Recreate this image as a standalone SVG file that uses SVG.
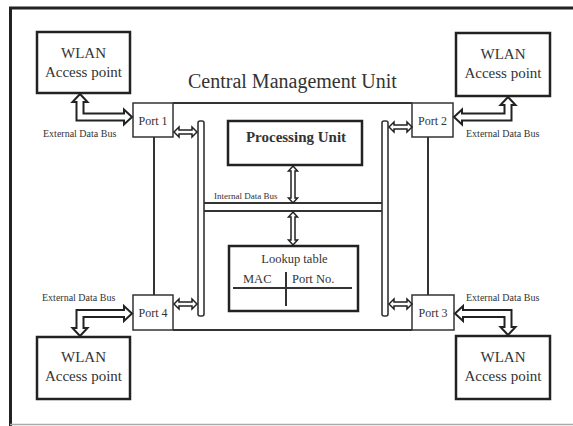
<svg xmlns="http://www.w3.org/2000/svg" width="573" height="426" viewBox="0 0 573 426" font-family="'Liberation Serif', 'Times New Roman', serif">
<style>
  text { font-family: "Liberation Serif", "Times New Roman", serif; fill: #333; }
  .box { fill: #fff; stroke: #222; stroke-width: 2.5; }
  .port { fill: #fff; stroke: #333; stroke-width: 1.5; }
  .ln { stroke: #333; stroke-width: 2; fill: none; }
  .bus { fill: #fff; stroke: #333; stroke-width: 1.6; }
  .arr { fill: #fff; stroke: #222; stroke-width: 2; stroke-linejoin: miter; }
  .sarr { fill: #fff; stroke: #222; stroke-width: 1.5; }
  .wl { font-size: 15px; text-anchor: middle; }
  .pt { font-size: 12px; text-anchor: middle; }
  .ext { font-size: 10px; }
</style>
<rect width="573" height="426" fill="#fff"/>
<g id="frame">
  <line x1="9" y1="8" x2="573" y2="8" stroke="#222" stroke-width="3"/>
  <line x1="10.5" y1="7" x2="10.5" y2="426" stroke="#222" stroke-width="3"/>
  <line x1="10" y1="424.5" x2="573" y2="424.5" stroke="#aaa" stroke-width="1.5"/>
</g>
<g id="cmu">
  <text x="188" y="88" style="font-size:20px" fill="#333">Central Management Unit</text>
  <line class="ln" x1="173" y1="103" x2="412" y2="103"/>
  <line class="ln" x1="173" y1="330" x2="412" y2="330"/>
  <line class="ln" x1="154" y1="137" x2="154" y2="295"/>
  <line class="ln" x1="428" y1="137" x2="428" y2="295"/>
</g>
<g id="wlan1">
  <rect class="box" x="37" y="32" width="93" height="61"/>
  <text class="wl" x="83.5" y="58">WLAN</text>
  <text class="wl" x="83.5" y="77">Access point</text>
</g>
<g id="wlan2">
  <rect class="box" x="456" y="33" width="94" height="63"/>
  <text class="wl" x="503" y="59">WLAN</text>
  <text class="wl" x="503" y="78">Access point</text>
</g>
<g id="wlan4">
  <rect class="box" x="37" y="337" width="93" height="62"/>
  <text class="wl" x="83.5" y="362">WLAN</text>
  <text class="wl" x="83.5" y="381">Access point</text>
</g>
<g id="wlan3">
  <rect class="box" x="456" y="336" width="94" height="63"/>
  <text class="wl" x="503" y="362">WLAN</text>
  <text class="wl" x="503" y="381">Access point</text>
</g>
<g id="port1">
  <rect class="port" x="133" y="103" width="40" height="34"/>
  <text class="pt" x="153" y="125">Port 1</text>
</g>
<g id="port2">
  <rect class="port" x="412" y="103" width="41" height="34"/>
  <text class="pt" x="432.5" y="125">Port 2</text>
</g>
<g id="port4">
  <rect class="port" x="133" y="295" width="40" height="35"/>
  <text class="pt" x="153" y="317">Port 4</text>
</g>
<g id="port3">
  <rect class="port" x="412" y="295" width="42" height="35"/>
  <text class="pt" x="433" y="317">Port 3</text>
</g>
<g id="processing">
  <rect class="box" x="228" y="121" width="134" height="44" stroke-width="2"/>
  <text x="296" y="142" style="font-size:15px;font-weight:bold;text-anchor:middle" fill="#2a2a3a">Processing Unit</text>
</g>
<g id="lookup">
  <rect class="box" x="229" y="246" width="129" height="65" stroke-width="2"/>
  <text x="294.5" y="263" style="font-size:12.5px;text-anchor:middle">Lookup table</text>
  <text x="243" y="283" style="font-size:12.5px">MAC</text>
  <text x="292" y="283" style="font-size:12.5px">Port No.</text>
  <line class="ln" x1="233" y1="288" x2="352" y2="288"/>
  <line class="ln" x1="286" y1="272" x2="286" y2="306"/>
</g>
<g id="buses">
  <rect class="bus" x="198" y="121" width="6" height="195" rx="2"/>
  <rect class="bus" x="382" y="121" width="6" height="195" rx="2"/>
  <line class="ln" x1="204" y1="203" x2="382" y2="203" stroke-width="1.6"/>
  <line class="ln" x1="204" y1="211" x2="382" y2="211" stroke-width="1.6"/>
  <text x="214" y="199" style="font-size:9px">Internal Data Bus</text>
</g>
<g id="connectors">
  <polygon class="arr" points="80,94 87.5,102 83.5,102 83.5,113.5 124,113.5 124,109.5 132,117 124,124.5 124,120.5 76.5,120.5 76.5,102 72.5,102"/>
  <polygon class="arr" points="508,97 515.5,105 511.5,105 511.5,120.5 462,120.5 462,124.5 454,117 462,109.5 462,113.5 504.5,113.5 504.5,105 500.5,105"/>
  <polygon class="arr" points="80,336 72.5,328 76.5,328 76.5,310 124,310 124,306 132,313.5 124,321 124,317 83.5,317 83.5,328 87.5,328"/>
  <polygon class="arr" points="508,335 515.5,327 511.5,327 511.5,310 463,310 463,306 455,313.5 463,321 463,317 504.5,317 504.5,327 500.5,327"/>
  <polygon class="sarr" points="174,132 179,127 179,130 192,130 192,127 197,132 192,137 192,134 179,134 179,137"/>
  <polygon class="sarr" points="389,127 394,122 394,125 407,125 407,122 412,127 407,132 407,129 394,129 394,132"/>
  <polygon class="sarr" points="174,304 179,299 179,302 192,302 192,299 197,304 192,309 192,306 179,306 179,309"/>
  <polygon class="sarr" points="389,304 394,299 394,302 407,302 407,299 412,304 407,309 407,306 394,306 394,309"/>
  <polygon class="sarr" points="293,166 297.5,171 295,171 295,198 297.5,198 293,203 288.5,198 291,198 291,171 288.5,171"/>
  <polygon class="sarr" points="293,212 297.5,217 295,217 295,240 297.5,240 293,245 288.5,240 291,240 291,217 288.5,217"/>
  <text class="ext" x="43" y="137">External  Data Bus</text>
  <text class="ext" x="466" y="137">External  Data Bus</text>
  <text class="ext" x="42" y="301">External  Data Bus</text>
  <text class="ext" x="466" y="301">External  Data Bus</text>
</g>
</svg>
